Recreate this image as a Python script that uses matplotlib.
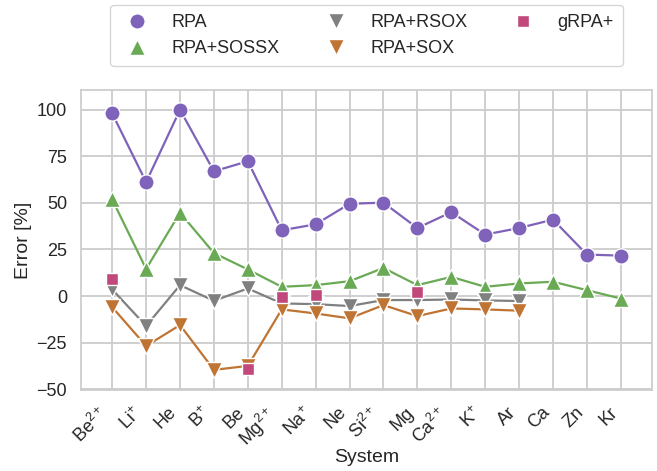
import numpy as np
import matplotlib
matplotlib.use('Agg')
import matplotlib.pyplot as plt
import seaborn as sns

sns.set_theme(style='whitegrid')
plt.rcParams['font.family'] = ['Liberation Sans', 'DejaVu Sans']
plt.rcParams['mathtext.fontset'] = 'custom'
plt.rcParams['mathtext.rm'] = 'Liberation Sans'
plt.rcParams['mathtext.it'] = 'Liberation Sans:italic'
plt.rcParams['mathtext.default'] = 'rm'
plt.rcParams['grid.linewidth'] = 1.3

# Systems on the x axis
systems = ['Be$^{2+}$', 'Li$^{+}$', 'He', 'B$^{+}$', 'Be', 'Mg$^{2+}$', 'Na$^{+}$', 'Ne',
           'Si$^{2+}$', 'Mg', 'Ca$^{2+}$', 'K$^{+}$', 'Ar', 'Ca', 'Zn', 'Kr']

# Errors in percent (nan = not computed)
nan = np.nan
rpa = [97.9, 61.1, 99.9, 66.9, 72.3, 35.3, 38.5, 49.5, 50.1, 36.5, 45.0, 33.0, 36.5, 41.0, 22.3, 21.7]
rpa_sossx = [51.8, 14.6, 44.7, 23.1, 14.3, 5.0, 5.9, 8.0, 15.1, 5.9, 10.3, 5.0, 6.8, 7.7, 3.2, -1.3]
rpa_rsox = [3.6, -16.0, 5.9, -2.5, 4.1, -3.9, -4.3, -5.3, -2.1, -2.1, -1.8, -2.3, -2.6, nan, nan, nan]
rpa_sox = [-5.9, -26.7, -15.5, -39.5, -37.4, -7.1, -9.3, -11.9, -4.8, -10.7, -6.6, -7.1, -7.8, nan, nan, nan]
grpa_plus = [9.1, nan, nan, nan, -39.2, -0.3, 0.5, nan, nan, 2.0, nan, nan, nan, nan, nan, nan]

c_rpa = '#7f62b9'
c_sossx = '#6aaa55'
c_rsox = '#808080'
c_sox = '#c07434'
c_grpa = '#c0487a'

x = np.arange(len(systems))

fig = plt.figure(figsize=(6.57, 4.71), dpi=100)
ax = fig.add_axes([0.1233, 0.172, 0.8691, 0.637])

series = [
    (rpa, 'RPA', 'o', c_rpa, 11, True),
    (rpa_sossx, 'RPA+SOSSX', '^', c_sossx, 11, True),
    (rpa_rsox, 'RPA+RSOX', 'v', c_rsox, 11, True),
    (rpa_sox, 'RPA+SOX', 'v', c_sox, 11, True),
    (grpa_plus, 'gRPA+', 's', c_grpa, 8.5, False),
]

for vals, name, m, c, ms, line in series:
    vals = np.array(vals)
    ok = ~np.isnan(vals)
    if line:
        ax.plot(x[ok], vals[ok], '-', color=c, lw=1.6, zorder=2)
    ax.plot(x[ok], vals[ok], ls='none', marker=m, color=c, ms=ms,
            mec='white', mew=1.0, label=name, zorder=3 if line else 4)

ax.set_xticks(x)
ax.set_xticklabels(systems, rotation=45, ha='right', fontsize=13)
ax.set_yticks([-50, -25, 0, 25, 50, 75, 100])
ax.tick_params(axis='y', labelsize=13)
ax.tick_params(axis='both', pad=4)
ax.set_xlim(-0.92, 15.92)
ax.set_ylim(-50.3, 110.5)
ax.set_xlabel('System', fontsize=14, labelpad=-2)
ax.set_ylabel('Error [%]', fontsize=14, labelpad=3)

ax.legend(loc='lower center', bbox_to_anchor=(0.5, 1.05), ncol=3, fontsize=13,
          handletextpad=0.9, columnspacing=2.1, borderpad=0.5, frameon=True)

fig.savefig('out.png', dpi=100)
